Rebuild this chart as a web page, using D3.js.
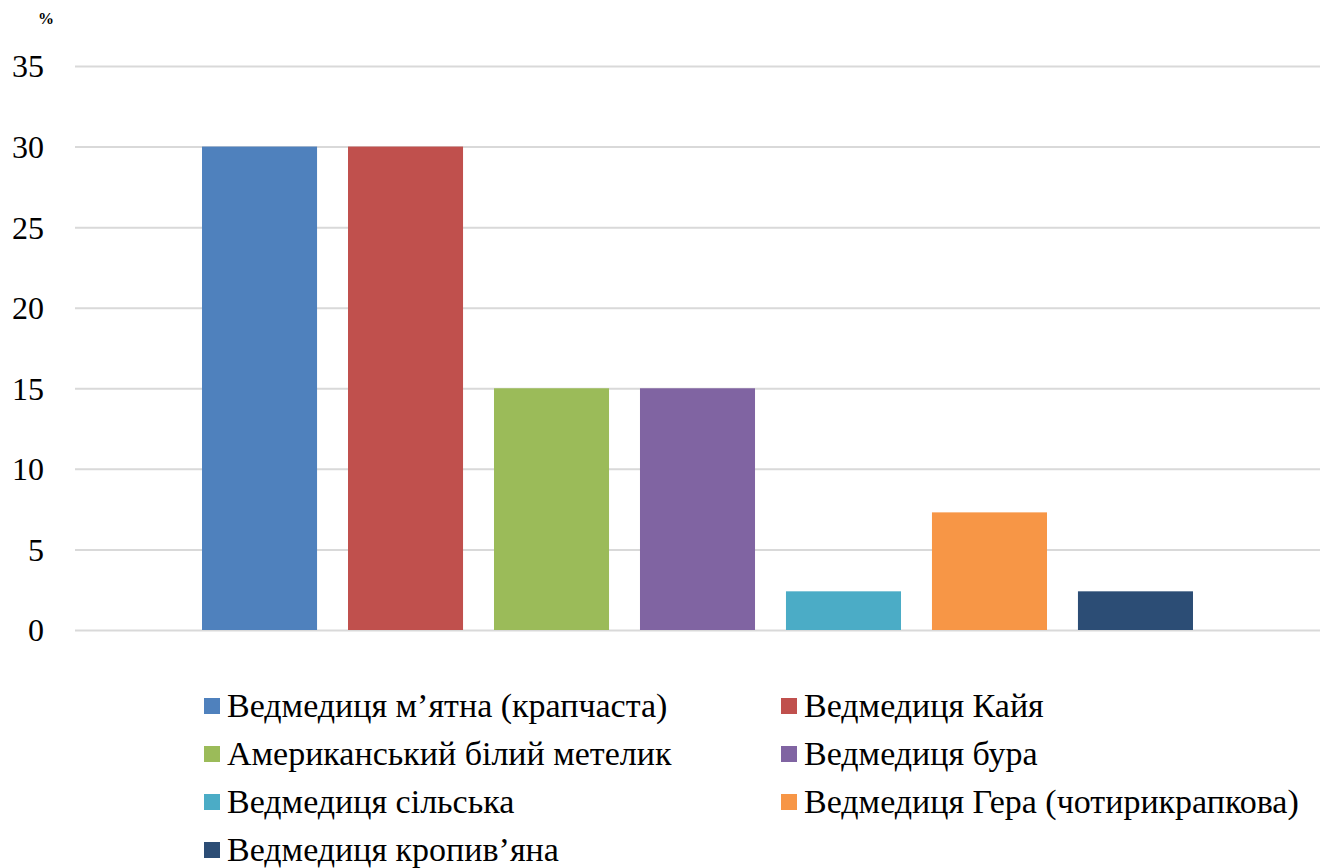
<!DOCTYPE html>
<html>
<head>
<meta charset="utf-8">
<script src="https://d3js.org/d3.v7.min.js"></script>
<style>
  body { margin: 0; background: #fff; }
  svg { display: block; }
  text { font-family: "Liberation Serif", "Times New Roman", Times, "DejaVu Serif", serif; fill: #000; }
</style>
</head>
<body>
<svg id="chart" width="1327" height="868"></svg>
<script>
// Species shares, %
const species = [
  "Ведмедиця м’ятна (крапчаста)",
  "Ведмедиця Кайя",
  "Американський білий метелик",
  "Ведмедиця бура",
  "Ведмедиця сільська",
  "Ведмедиця Гера (чотирикрапкова)",
  "Ведмедиця кропив’яна"
];
const shares = [30, 30, 15, 15, 2.4, 7.3, 2.4];
const colors = ["#4f81bd", "#c0504d", "#9bbb59", "#8064a2", "#4bacc6", "#f79646", "#2c4d75"];
const yTicks = [0, 5, 10, 15, 20, 25, 30, 35];
const unitLabel = "%";

const serif = "'Liberation Serif', 'Times New Roman', Times, 'DejaVu Serif', serif";
const svg = d3.select("#chart");
const plot = { left: 75, right: 1320, top: 66, bottom: 630 };

const x = d3.scaleBand()
  .domain(species)
  .range([plot.left, plot.right])
  .paddingInner(0.212)
  .paddingOuter(0.87);

const y = d3.scaleLinear()
  .domain([0, 35])
  .range([plot.bottom, plot.top]);

// Gridlines and y labels
const yAxis = d3.axisLeft(y)
  .tickValues(yTicks)
  .tickSize(-(plot.right - plot.left))
  .tickPadding(31);

const gy = svg.append("g")
  .attr("transform", `translate(${plot.left},0)`)
  .call(yAxis)
  .attr("font-family", null)
  .attr("font-size", null);
gy.select(".domain").remove();
gy.selectAll(".tick line").attr("stroke", "#d9d9d9").attr("stroke-width", 2);
gy.selectAll(".tick text")
  .style("font-family", serif)
  .style("font-size", "32px")
  .attr("fill", "#000")
  .attr("dy", "0.34em");

svg.append("text")
  .attr("x", 46)
  .attr("y", 24)
  .attr("text-anchor", "middle")
  .style("font-size", "16px")
  .style("font-weight", "bold")
  .text(unitLabel);

// Bars
svg.append("g")
  .selectAll("rect")
  .data(species)
  .join("rect")
  .attr("x", d => x(d))
  .attr("width", x.bandwidth())
  .attr("y", (d, i) => y(shares[i]))
  .attr("height", (d, i) => y(0) - y(shares[i]))
  .attr("fill", (d, i) => colors[i]);

// Legend in two columns
const legend = svg.append("g");
const colX = [204, 781];
const rowY0 = 706, rowStep = 48;
species.forEach((name, i) => {
  const cx = colX[i % 2];
  const cy = rowY0 + Math.floor(i / 2) * rowStep;
  const g = legend.append("g").attr("transform", `translate(${cx},${cy})`);
  g.append("rect")
    .attr("x", 0).attr("y", -8)
    .attr("width", 16).attr("height", 16)
    .attr("fill", colors[i]);
  g.append("text")
    .attr("x", 23)
    .attr("y", 11)
    .style("font-size", "34px")
    .text(name);
});
</script>
</body>
</html>
